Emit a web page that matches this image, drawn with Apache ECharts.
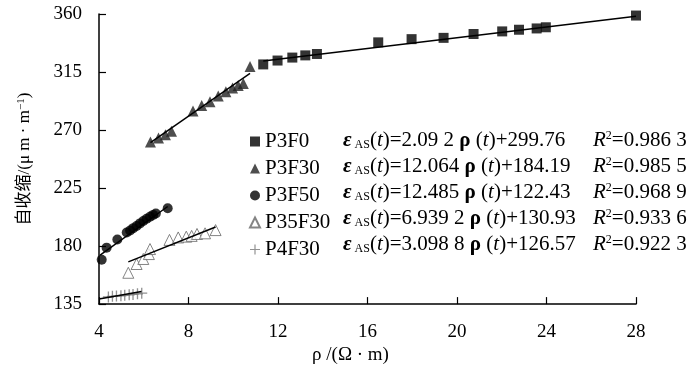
<!DOCTYPE html>
<html>
<head>
<meta charset="utf-8">
<script src="https://cdn.jsdelivr.net/npm/echarts@6/dist/echarts.min.js"></script>
<style>html,body{margin:0;padding:0;background:#fff}#c{width:700px;height:370px}</style>
</head>
<body>
<div id="c"></div>
<script>
// ---- data ----
const seriesNames = ['P3F0', 'P3F30', 'P3F50', 'P35F30', 'P4F30'];
const p3f0 = [[11.34,320.9],[11.98,323.9],[12.64,326.2],[13.22,327.9],[13.74,329.0],[16.48,338.0],[17.97,340.5],[19.40,341.5],[20.74,344.5],[22.02,346.5],[22.77,347.8],[23.56,348.8],[23.97,349.7],[28.0,358.8]];
const p3f30 = [[6.30,260.8],[6.66,263.8],[6.97,266.4],[7.24,269.1],[8.20,284.8],[8.59,289.1],[8.96,292.0],[9.33,296.4],[9.67,299.7],[9.97,302.7],[10.22,304.6],[10.45,306.1],[10.75,319.2]];
const p3f50 = [[4.12,169.4],[4.34,178.8],[4.82,185.1],[5.24,190.6],[5.39,192.1],[5.53,193.9],[5.68,195.6],[5.83,197.6],[5.98,199.4],[6.13,201.2],[6.28,202.7],[6.42,204.2],[6.54,205.2],[7.07,209.4]];
const p35f30 = [[5.31,159.3],[5.68,166.1],[5.98,170.0],[6.23,173.8],[6.28,177.7],[7.15,184.8],[7.54,186.7],[7.90,187.3],[8.14,187.9],[8.38,189.4],[8.74,189.9],[9.21,192.4]];
const p4f30 = [[4.42,140.5],[4.60,141.0],[4.78,141.2],[4.98,141.5],[5.15,141.8],[5.35,142.2],[5.52,142.5],[5.72,143.0],[5.91,143.5]];
// fitted lines (from the equations printed in the legend)
const fitSlopes = [2.0922, 12.064, 12.485, 6.9392, 3.0988];
const fitIntercepts = [299.76, 184.19, 122.43, 130.93, 126.57];
const fitRanges = [[11.34,28],[6.30,10.75],[4.05,7.07],[5.31,9.21],[4.0,5.9]];
const eqCoef = ['2.09 2', '12.064', '12.485', '6.939 2', '3.098 8'];
const eqConst = ['299.76', '184.19', '122.43', '130.93', '126.57'];
const r2Text = ['0.986 3', '0.985 5', '0.968 9', '0.933 6', '0.922 3'];
const xTicks = {min: 4, max: 28, interval: 4};
const yTicks = {min: 135, max: 360, interval: 45};

const serif = "'Liberation Serif','Times New Roman','Noto Sans CJK SC',serif";
const chart = echarts.init(document.getElementById('c'), null, {renderer: 'canvas'});
const plusPath = 'path://M0,4.4H10V5.6H0Z M4.4,0H5.6V10H4.4Z';
const pointSets = [p3f0, p3f30, p3f50, p35f30, p4f30];
const symbols = ['rect', 'triangle', 'circle', 'triangle', plusPath];
const sizes = [10, 11, 10, 11, 11];
const styles = [
  {color: '#000'},
  {color: '#222'},
  {color: '#000'},
  {color: '#fff', borderColor: '#666', borderWidth: 1},
  {color: '#777'}
];
const series = [];
pointSets.forEach((d, i) => {
  series.push({
    name: seriesNames[i], type: 'scatter', data: d, symbol: symbols[i],
    symbolSize: sizes[i], itemStyle: styles[i], z: 3
  });
});
fitRanges.forEach((r, i) => {
  series.push({
    type: 'line', silent: true, symbol: 'none', z: 4,
    data: r.map(x => [x, fitSlopes[i] * x + fitIntercepts[i]]),
    lineStyle: {color: '#000', width: 1.5}
  });
});

const rowTop = 141, rowGap = 26;
const rich = {
  e: {fontFamily: serif, fontSize: 21, fontStyle: 'italic', fontWeight: 'bold', fill: '#000', color: '#000'},
  r: {fontFamily: serif, fontSize: 21, fontWeight: 'bold', color: '#000'},
  sub: {fontFamily: serif, fontSize: 12, color: '#000', verticalAlign: 'bottom', padding: [8, 0, 0, 0]},
  t: {fontFamily: serif, fontSize: 21, color: '#000'},
  it: {fontFamily: serif, fontSize: 21, fontStyle: 'italic', color: '#000'},
  sup: {fontFamily: serif, fontSize: 12, color: '#000', verticalAlign: 'top', padding: [0, 0, 8, 0]}
};
const graphics = [];
for (let i = 0; i < 5; i++) {
  graphics.push({
    type: 'text', left: 343, top: rowTop + i * rowGap - 11,
    style: {
      text: `{e|ε}{sub| AS}{t|(}{it|t}{t|)=${eqCoef[i]} }{r|ρ}{t| (}{it|t}{t|)+${eqConst[i]}}`,
      rich: rich, font: `21px ${serif}`, fill: '#000'
    }
  });
  graphics.push({
    type: 'text', left: 593, top: rowTop + i * rowGap - 11,
    style: {
      text: `{it|R}{sup|2}{t|=${r2Text[i]}}`,
      rich: rich, font: `21px ${serif}`, fill: '#000'
    }
  });
}

chart.setOption({
  animation: false,
  backgroundColor: '#fff',
  grid: {left: 99, right: 64, top: 14, bottom: 57},
  legend: {
    data: seriesNames, orient: 'vertical', left: 249, top: rowTop - 10,
    itemWidth: 10, itemHeight: 10, itemGap: 6, padding: 0,
    textStyle: {fontFamily: serif, fontSize: 21, color: '#000', lineHeight: 20}
  },
  xAxis: {
    type: 'value', min: xTicks.min, max: xTicks.max, interval: xTicks.interval,
    name: 'ρ /(Ω · m)', nameLocation: 'middle', nameGap: 34,
    nameTextStyle: {fontFamily: serif, fontSize: 19, color: '#000', padding: [0, 34, 0, 0]},
    axisLine: {lineStyle: {color: '#000', width: 1.5}},
    axisTick: {inside: true, length: 7, lineStyle: {color: '#000', width: 1.2}},
    axisLabel: {fontFamily: serif, fontSize: 19, color: '#000', margin: 18},
    splitLine: {show: false}
  },
  yAxis: {
    type: 'value', min: yTicks.min, max: yTicks.max, interval: yTicks.interval,
    name: '自收缩/(μ m · m{sup|−1})', nameLocation: 'middle', nameGap: 66, nameRotate: 90,
    nameTextStyle: {
      fontFamily: serif, fontSize: 17, color: '#000',
      rich: {sup: {fontFamily: serif, fontSize: 11, color: '#000', verticalAlign: 'top', padding: [0, 0, 6, 0]}}
    },
    axisLine: {show: true, lineStyle: {color: '#000', width: 1.5}},
    axisTick: {show: true, inside: true, length: 7, lineStyle: {color: '#000', width: 1.2}},
    axisLabel: {fontFamily: serif, fontSize: 19, color: '#000', margin: 17},
    splitLine: {show: false}
  },
  graphic: graphics,
  series: series
});
</script>
</body>
</html>
